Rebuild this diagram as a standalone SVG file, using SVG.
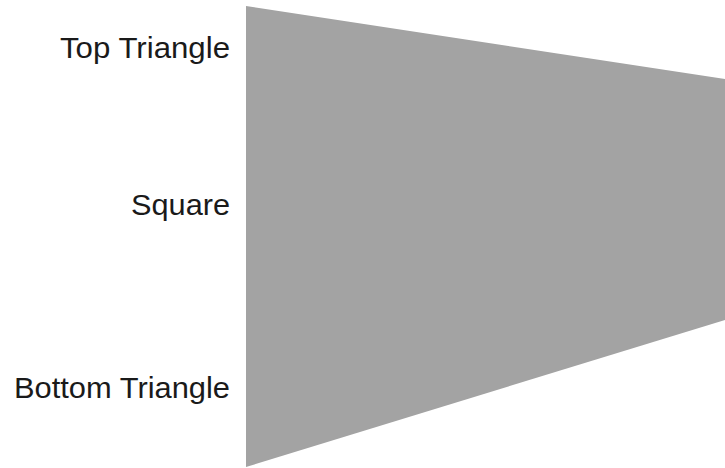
<svg xmlns="http://www.w3.org/2000/svg" width="725" height="468" viewBox="0 0 725 468">
  <style>
    .lbl { font-family: "Liberation Sans", Arial, sans-serif; font-size: 29px; fill: #1a1a1a; text-anchor: end; }
  </style>
  <rect width="725" height="468" fill="#ffffff"/>
  <g id="shape">
    <polygon points="246,6 725,79 725,320 246,467" fill="#a3a3a3"/>
  </g>
  <g id="labels">
    <text class="lbl" x="230" y="58" textLength="170" lengthAdjust="spacingAndGlyphs">Top Triangle</text>
    <text class="lbl" x="230" y="215" textLength="99" lengthAdjust="spacingAndGlyphs">Square</text>
    <text class="lbl" x="230" y="398" textLength="216" lengthAdjust="spacingAndGlyphs">Bottom Triangle</text>
  </g>
</svg>
